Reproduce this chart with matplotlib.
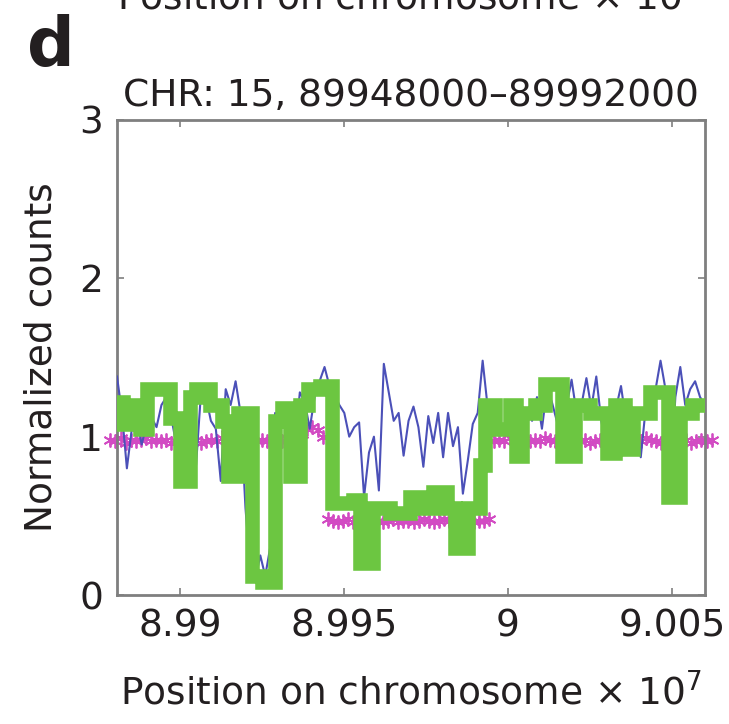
import numpy as np
import matplotlib
matplotlib.use("Agg")
import matplotlib.pyplot as plt

plt.rcParams['font.family'] = ['DejaVu Sans']

# ---- data (positions in units of 10^7 bp) ----
green_x = [8.98808, 8.98826, 8.98848, 8.98878, 8.98900, 8.98970, 8.99000, 8.99031,
           8.99049, 8.99092, 8.99128, 8.99147, 8.99177, 8.99220, 8.99250, 8.99290,
           8.99311, 8.99336, 8.99366, 8.99391, 8.99427, 8.99464, 8.99528, 8.99549,
           8.99589, 8.99641, 8.99702, 8.99738, 8.99772, 8.99814, 8.99839, 8.99879,
           8.99915, 8.99930, 8.99961, 9.00007, 9.00025, 9.00043, 9.00083, 9.00113,
           9.00165, 9.00205, 9.00251, 9.00302, 9.00327, 9.00357, 9.00382, 9.00434,
           9.00489, 9.00525, 9.00562, 9.00601]
green_y = [1.22, 1.08, 1.20, 1.05, 1.30, 1.12, 0.72, 1.25,
           1.30, 1.20, 1.10, 0.75, 1.15, 0.12, 0.08, 1.10,
           1.18, 0.75, 1.20, 1.30, 1.32, 0.58, 0.60, 0.20,
           0.55, 0.52, 0.62, 0.55, 0.65, 0.55, 0.30, 0.55,
           0.82, 1.20, 1.05, 1.20, 0.88, 1.15, 1.20, 1.33,
           0.88, 1.20, 1.15, 0.90, 1.20, 0.92, 1.15, 1.28,
           0.62, 1.15, 1.20, 1.20]

bin_start, bin_end = 8.98808, 9.00601

blue_y = [1.38, 1.15, 0.80, 1.05, 1.10, 0.95, 1.08, 1.12, 1.06, 1.20,
          1.25, 1.12, 0.95, 0.75, 0.80, 1.15, 0.82, 1.28, 1.25, 1.10,
          1.05, 0.72, 1.30, 1.20, 1.35, 1.15, 0.55, 0.15, 0.10, 0.25,
          0.12, 0.30, 1.15, 1.05, 1.20, 0.80, 0.95, 1.28, 1.22, 1.05,
          1.25, 1.35, 1.44, 1.32, 1.27, 1.20, 1.15, 1.00, 1.06, 1.09,
          0.62, 0.90, 1.00, 0.66, 1.46, 1.28, 1.10, 1.15, 0.88, 1.10,
          1.19, 1.06, 0.81, 1.13, 0.96, 1.15, 0.87, 1.15, 0.94, 1.06,
          0.64, 0.85, 1.08, 1.15, 1.48, 1.19, 1.20, 1.10, 1.05, 1.12,
          1.20, 0.90, 1.12, 1.18, 1.10, 1.25, 1.05, 1.30, 1.22, 1.10,
          0.95, 1.20, 1.36, 1.15, 1.20, 1.37, 1.18, 1.38, 1.10, 0.95,
          1.05, 1.18, 1.32, 1.10, 0.98, 1.15, 0.87, 1.18, 1.25, 1.30,
          1.48, 1.30, 0.70, 1.25, 1.44, 1.20, 1.30, 1.35, 1.25, 1.20]

magenta_y = [0.98, 0.97, 0.99, 0.96, 0.98, 0.97, 0.98, 0.99, 0.97, 0.98,
             0.97, 0.98, 0.96, 0.97, 0.98, 0.99, 0.97, 0.98, 0.96, 0.97,
             0.98, 0.97, 0.99, 1.02, 1.04, 0.98, 0.97, 0.98, 0.96, 0.97,
             0.98, 0.97, 0.96, 0.98, 0.97, 0.99, 1.00, 0.97, 1.02, 1.05,
             1.06, 1.04, 1.00, 0.48, 0.47, 0.46, 0.47, 0.48, 0.46, 0.47,
             0.47, 0.46, 0.48, 0.47, 0.46, 0.47, 0.48, 0.46, 0.47, 0.47,
             0.46, 0.47, 0.48, 0.47, 0.46, 0.47, 0.48, 0.47, 0.46, 0.47,
             0.48, 0.47, 0.46, 0.47, 0.47, 0.48, 0.97, 0.98, 0.97, 0.99,
             0.97, 0.98, 0.96, 0.97, 0.98, 0.97, 0.99, 0.98, 0.97, 0.96,
             0.98, 0.97, 0.99, 0.97, 0.98, 0.96, 0.97, 0.98, 0.97, 0.99,
             0.97, 0.98, 0.96, 0.97, 0.98, 0.97, 0.99, 0.98, 0.97, 0.96,
             0.98, 0.97, 0.99, 0.97, 0.98, 0.96, 0.97, 0.98, 0.97, 0.98]

bins_x = np.linspace(bin_start, bin_end, len(blue_y))
mag_x = np.linspace(bin_start - 0.0002, bin_end + 0.0002, len(magenta_y))

xticks = [8.99, 8.995, 9.0, 9.005]
xticklabels = ['8.99', '8.995', '9', '9.005']
yticks = [0, 1, 2, 3]

title = 'CHR: 15, 89948000\u201389992000'

# ---- figure ----
fig = plt.figure(figsize=(7.29, 7.24), dpi=100)
ax = fig.add_axes([117 / 729, (724 - 595) / 724, (705 - 117) / 729, (595 - 120) / 724])

txt = '#231f20'
fs = 27
ax.plot(mag_x, magenta_y, linestyle='none', marker=(6, 2, 0), markersize=10,
        markeredgewidth=1.3, color='#d24bc3', clip_on=False, zorder=2)
ax.plot(bins_x, blue_y, color='#4b50b8', linewidth=1.5, zorder=3)
ax.step(green_x, green_y, where='post', color='#6cc641', linewidth=10.5,
        solid_joinstyle='miter', zorder=4)

ax.set_xlim(8.98808, 9.00601)
ax.set_ylim(0, 3)
ax.set_xticks(xticks)
ax.set_xticklabels(xticklabels)
ax.set_yticks(yticks)
ax.tick_params(direction='in', length=5, width=1.2, color='#7f7f7f',
               top=True, right=True, labelsize=fs, labelcolor=txt, pad=10)
for s in ax.spines.values():
    s.set_color('#7f7f7f')
    s.set_linewidth(2)

ax.set_ylabel('Normalized counts', fontsize=fs, color=txt, labelpad=14)
ax.set_xlabel('Position on chromosome \u00d7 10$^{7}$', fontsize=fs, color=txt, labelpad=20)
ax.set_title(title, fontsize=fs, color=txt, pad=10)

fig.text(0.07, 0.935, 'd', fontsize=48, fontweight='bold', color=txt,
         ha='center', va='center')
fig.text(0.56, 1.003, 'Position on chromosome \u00d7 10$^{5}$', fontsize=fs,
         color=txt, ha='center', va='center')

fig.savefig('out.png', dpi=100)
